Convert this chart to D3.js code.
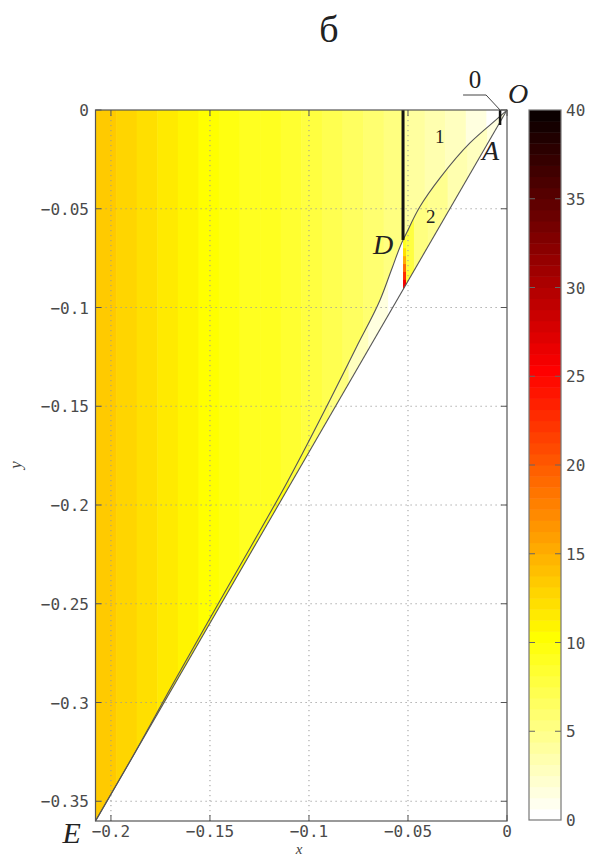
<!DOCTYPE html>
<html><head><meta charset="utf-8">
<script src="https://cdn.jsdelivr.net/npm/d3@7"></script>
<style>body{margin:0;background:#fff} svg{display:block}</style>
</head><body>
<svg id="chart" width="590" height="858"></svg>
<script>
// Field values in vertical stripes over the main region (stripe edges along x, one value per stripe)
const fieldEdges = [-0.2078, -0.1974, -0.1870, -0.1766, -0.1662, -0.1558, -0.1455, -0.1351, -0.1247, -0.1143,
                    -0.1039, -0.0935, -0.0831, -0.0727, -0.0623, -0.0520, -0.0416, -0.0312, -0.0208, -0.0104, 0];
const fieldValues = [13.6, 13.0, 12.3, 11.6, 10.8, 10.1, 9.6, 9.2, 8.8, 8.3,
                     7.8, 7.2, 6.6, 5.9, 5.1, 4.0, 3.3, 2.5, 1.5, 0.5];

// Zone 2, between the arc and the straight line OE
const zoneEdges = [-0.2078, -0.19, -0.17, -0.15, -0.13, -0.11, -0.10, -0.09, -0.08, -0.07, -0.06, -0.0525,
                   -0.047, -0.040, -0.030, -0.020, -0.010, 0];
const zoneValues = [13.0, 12.0, 11.0, 10.2, 9.5, 8.0, 6.5, 5.0, 3.0, 1.5, 0.5,
                    7.5, 5.5, 4.5, 3.5, 2.5, 1.5];

// Narrow strip just right of the cut below D (values from top to bottom)
const notchEdgesY = [-0.0658, -0.0700, -0.0740, -0.0780, -0.0820, -0.0860, -0.0920];
const notchValues = [9, 12, 15, 19, 23, 26];

// Arc from O through D down to E
const arcX = [0, -0.0016, -0.0187, -0.0338, -0.0440, -0.0515, -0.0525, -0.0580, -0.0641, -0.0760, -0.0894, -0.1104, -0.1390, -0.1676, -0.1900, -0.2078];
const arcY = [0, -0.0015, -0.0167, -0.0344, -0.0490, -0.0638, -0.0658, -0.0800, -0.0962, -0.1200, -0.1468, -0.1873, -0.2380, -0.2886, -0.3291, -0.3600];

// Cuts: the long one ending at D and the short one at O
const cutX = -0.0525, cutTop = 0, cutBottom = -0.0658;
const shortCutX = -0.0035, shortCutBottom = -0.0076;

const xTicks = [-0.2, -0.15, -0.1, -0.05, 0];
const yTicks = [0, -0.05, -0.1, -0.15, -0.2, -0.25, -0.3, -0.35];
const cbTicks = [0, 5, 10, 15, 20, 25, 30, 35, 40];
const xDomain = [-0.2078, 0], yDomain = [-0.36, 0], cbDomain = [0, 40];

const svg = d3.select("#chart");
const x = d3.scaleLinear().domain(xDomain).range([95.5, 507]);
const y = d3.scaleLinear().domain(yDomain).range([821, 110]);
const cbY = d3.scaleLinear().domain(cbDomain).range([820, 110]);

// Reversed "hot" colour map, 64 levels
const nLev = 64;
function hotColor(i) { // i = 1..64
  const r = Math.min(1, i / 24);
  const g = i <= 24 ? 0 : Math.min(1, (i - 24) / 24);
  const b = i <= 48 ? 0 : (i - 48) / 16;
  return d3.rgb(r * 255, g * 255, b * 255).toString();
}
function color(v) {
  let i = nLev - Math.floor((v - cbDomain[0]) / (cbDomain[1] - cbDomain[0]) * nLev);
  i = Math.max(1, Math.min(nLev, i));
  return hotColor(i);
}

const defs = svg.append("defs");
const xMin = xDomain[0], yMin = yDomain[0];
const arcPts = arcX.map((d, i) => [x(d), y(arcY[i])]);
const arcPath = d3.line().curve(d3.curveMonotoneY)(arcPts);
defs.append("clipPath").attr("id", "clipMain").append("path")
  .attr("d", `M${x(xMin)},${y(0)}L` + arcPath.slice(1) + "Z");
defs.append("clipPath").attr("id", "clipZone").append("path")
  .attr("d", arcPath + "Z");

// main region stripes
const gMain = svg.append("g").attr("clip-path", "url(#clipMain)");
gMain.selectAll("rect").data(fieldValues).join("rect")
  .attr("x", (d, i) => x(fieldEdges[i]))
  .attr("width", (d, i) => x(fieldEdges[i + 1]) - x(fieldEdges[i]) + 0.5)
  .attr("y", y(0)).attr("height", y(yMin) - y(0))
  .attr("fill", d => color(d));

// zone 2 stripes
const gZone = svg.append("g").attr("clip-path", "url(#clipZone)");
gZone.selectAll("rect.z").data(zoneValues).join("rect").attr("class", "z")
  .attr("x", (d, i) => x(zoneEdges[i]))
  .attr("width", (d, i) => x(zoneEdges[i + 1]) - x(zoneEdges[i]) + 0.5)
  .attr("y", y(0)).attr("height", y(yMin) - y(0))
  .attr("fill", d => color(d));
gZone.selectAll("rect.n").data(notchValues).join("rect").attr("class", "n")
  .attr("x", x(cutX)).attr("width", 3)
  .attr("y", (d, i) => y(notchEdgesY[i]))
  .attr("height", (d, i) => y(notchEdgesY[i + 1]) - y(notchEdgesY[i]) + 0.5)
  .attr("fill", d => color(d));

// dotted grid
const grid = svg.append("g").attr("stroke", "#9a9a9a").attr("stroke-width", 1)
  .attr("stroke-dasharray", "1.2,3.8");
grid.selectAll("line.gx").data(xTicks.filter(d => d !== 0)).join("line").attr("class", "gx")
  .attr("x1", d => x(d)).attr("x2", d => x(d)).attr("y1", y(0)).attr("y2", y(yMin));
grid.selectAll("line.gy").data(yTicks.filter(d => d !== 0)).join("line").attr("class", "gy")
  .attr("y1", d => y(d)).attr("y2", d => y(d)).attr("x1", x(xMin)).attr("x2", x(0));

// arc and straight line OE
svg.append("path").attr("d", arcPath)
  .attr("fill", "none").attr("stroke", "#555").attr("stroke-width", 1.1);
svg.append("line").attr("x1", x(0)).attr("y1", y(0)).attr("x2", x(xMin)).attr("y2", y(yMin))
  .attr("stroke", "#555").attr("stroke-width", 1.1);

// cuts
svg.append("line").attr("x1", x(cutX)).attr("x2", x(cutX)).attr("y1", y(cutTop)).attr("y2", y(cutBottom))
  .attr("stroke", "#111").attr("stroke-width", 3);
svg.append("line").attr("x1", x(shortCutX)).attr("x2", x(shortCutX)).attr("y1", y(0)).attr("y2", y(shortCutBottom))
  .attr("stroke", "#111").attr("stroke-width", 2.5);

// frame and ticks
const frame = svg.append("g").attr("stroke", "#555").attr("fill", "none");
frame.append("rect").attr("x", x(xMin)).attr("y", y(0)).attr("width", x(0) - x(xMin)).attr("height", y(yMin) - y(0))
  .attr("stroke-width", 1.2);
const tl = 6;
frame.selectAll("path.tx").data(xTicks).join("path").attr("class", "tx")
  .attr("d", d => `M${x(d)},${y(yMin)}v${-tl}M${x(d)},${y(0)}v${tl}`);
frame.selectAll("path.ty").data(yTicks).join("path").attr("class", "ty")
  .attr("d", d => `M${x(xMin)},${y(d)}h${tl}M${x(0)},${y(d)}h${-tl}`);

const mono = "'DejaVu Sans Mono', monospace";
const fmt = d => (d < 0 ? "\u2212" : "") + String(Math.abs(d));
svg.append("g").selectAll("text").data(xTicks).join("text")
  .attr("x", d => x(d)).attr("y", 837).attr("text-anchor", "middle")
  .attr("font-family", mono).attr("font-size", 16).attr("fill", "#4a4a4a").text(fmt);
svg.append("g").selectAll("text").data(yTicks).join("text")
  .attr("x", 89).attr("y", d => y(d) + 6).attr("text-anchor", "end")
  .attr("font-family", mono).attr("font-size", 16).attr("fill", "#4a4a4a").text(fmt);

// axis titles and panel title
const serif = "'Liberation Serif', 'DejaVu Serif', serif";
svg.append("text").attr("x", 299).attr("y", 854).attr("text-anchor", "middle")
  .attr("font-family", serif).attr("font-style", "italic").attr("font-size", 15).attr("fill", "#444").text("x");
svg.append("text").attr("transform", "translate(21,465) rotate(-90)").attr("text-anchor", "middle")
  .attr("font-family", serif).attr("font-style", "italic").attr("font-size", 17).attr("fill", "#444").text("y");
svg.append("text").attr("x", 329).attr("y", 42).attr("text-anchor", "middle")
  .attr("font-family", serif).attr("font-size", 38).attr("fill", "#222").text("б");

// point and zone labels
const lab = (t, px, py, size, italic, anchor) => svg.append("text").attr("x", px).attr("y", py)
  .attr("text-anchor", anchor || "start").attr("font-family", serif)
  .attr("font-style", italic ? "italic" : "normal").attr("font-size", size).attr("fill", "#222").text(t);
lab("O", x(0) + 1, y(0) - 7, 28, true);
lab("0", x(shortCutX) - 25, y(0) - 22, 25, false, "middle");
svg.append("path").attr("d", `M${x(shortCutX) - 37},${y(0) - 15}H${x(shortCutX) - 14}L${x(shortCutX)},${y(0)}`)
  .attr("fill", "none").attr("stroke", "#444").attr("stroke-width", 1);
lab("A", x(shortCutX) - 18, y(0) + 50, 28, true);
lab("1", x(-0.034), y(0) + 33, 19, false, "middle");
lab("2", x(-0.0385), y(0) + 113, 19, false, "middle");
lab("D", x(cutX) - 30, y(cutBottom) + 14, 28, true);
lab("E", x(xMin) - 33, y(yMin) + 22, 30, true);

// colour bar
const cbX = 529, cbW = 32;
const levels = d3.range(nLev);
svg.append("g").selectAll("rect").data(levels).join("rect")
  .attr("x", cbX).attr("width", cbW)
  .attr("y", d => cbY(cbDomain[0] + (d + 1) * (cbDomain[1] - cbDomain[0]) / nLev))
  .attr("height", (cbY(0) - cbY(40)) / nLev + 0.5)
  .attr("fill", d => hotColor(nLev - d));
svg.append("rect").attr("x", cbX).attr("y", cbY(40)).attr("width", cbW).attr("height", cbY(0) - cbY(40))
  .attr("fill", "none").attr("stroke", "#777").attr("stroke-width", 1.2);
svg.append("g").selectAll("path").data(cbTicks.slice(1, -1)).join("path")
  .attr("d", d => `M${cbX},${cbY(d)}h6M${cbX + cbW},${cbY(d)}h-6`)
  .attr("stroke", "#666").attr("stroke-width", 1);
svg.append("g").selectAll("text").data(cbTicks).join("text")
  .attr("x", cbX + cbW + 5).attr("y", d => cbY(d) + 6)
  .attr("font-family", mono).attr("font-size", 16).attr("fill", "#4a4a4a").text(d => d);
</script>
</body></html>
